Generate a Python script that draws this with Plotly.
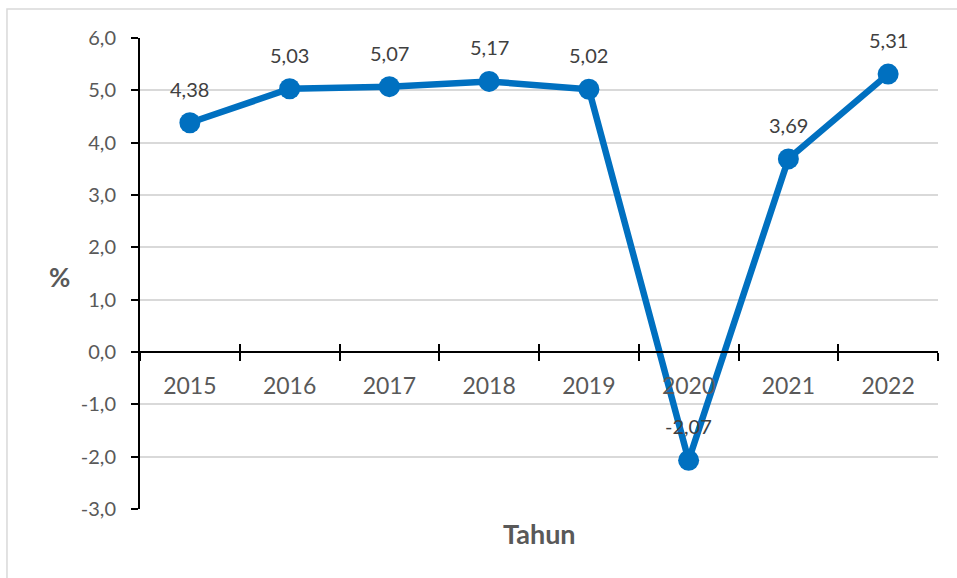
import plotly.graph_objects as go

years = ["2015", "2016", "2017", "2018", "2019", "2020", "2021", "2022"]
growth = [4.38, 5.03, 5.07, 5.17, 5.02, -2.07, 3.69, 5.31]
y_ticks = [-3, -2, -1, 0, 1, 2, 3, 4, 5, 6]

FONT = "Lato"
BLUE = "#0070C0"
GREY = "#595959"


def id_num(v, d):
    # Indonesian style decimal comma, plain hyphen for negatives
    return f"{v:.{d}f}".replace(".", ",")


fig = go.Figure()

fig.add_trace(go.Scatter(
    x=years, y=growth,
    mode="lines+markers",
    line=dict(color=BLUE, width=6.5),
    marker=dict(size=21, color=BLUE),
    showlegend=False,
    hovertemplate="%{x}: %{y:.2f}%<extra></extra>",
))

# helper trace so the second x axis (inner half of the tick marks) gets drawn
fig.add_trace(go.Scatter(
    x=years, y=growth, xaxis="x2", mode="none",
    showlegend=False, hoverinfo="skip",
))

# data labels above each point (category index as x, year strings would be read as numbers)
for i, v in enumerate(growth):
    fig.add_annotation(
        x=i, y=v, xref="x", yref="y", text=id_num(v, 2),
        showarrow=False, yshift=34,
        font=dict(family=FONT, size=20, color="#404040"),
    )

zero_pos = 3 / 9
x_range = [-0.5, len(years) - 0.5]

fig.update_layout(
    width=957, height=578,
    margin=dict(l=140, r=19, t=38, b=69),
    paper_bgcolor="white",
    plot_bgcolor="white",
    font=dict(family=FONT, size=20, color=GREY),
    xaxis=dict(
        type="category", range=x_range,
        anchor="free", position=zero_pos,
        showline=True, linecolor="black", linewidth=2,
        ticks="outside", tickson="boundaries", ticklen=8,
        tickcolor="black", tickwidth=2,
        showgrid=False,
        ticklabelstandoff=13,
        tickfont=dict(family=FONT, size=23, color=GREY),
    ),
    xaxis2=dict(
        type="category", range=x_range, overlaying="x",
        anchor="free", position=zero_pos,
        showline=False,
        ticks="inside", tickson="boundaries", ticklen=8,
        tickcolor="black", tickwidth=2,
        showticklabels=False, showgrid=False,
    ),
    yaxis=dict(
        range=[-3, 6],
        tickvals=y_ticks,
        ticktext=[id_num(v, 1) for v in y_ticks],
        showline=True, linecolor="black", linewidth=2,
        ticks="outside", ticklen=7, tickcolor="black", tickwidth=2,
        showgrid=True, gridcolor="#d9d9d9", gridwidth=1.5,
        zeroline=False,
        ticklabelstandoff=11,
        tickfont=dict(family=FONT, size=20, color=GREY),
    ),
)

fig.add_annotation(
    x=0.5, y=-0.051, xref="paper", yref="paper",
    text="<b>Tahun</b>", showarrow=False, yanchor="middle",
    font=dict(family=FONT, size=27, color=GREY),
)
fig.add_annotation(
    x=-0.104, y=0.4926, xref="paper", yref="paper", xshift=-10,
    text="<b>%</b>", showarrow=False, yanchor="middle",
    font=dict(family=FONT, size=26, color=GREY),
)

# chart border
fig.add_shape(
    type="rect", xref="paper", yref="paper",
    x0=-0.1667, x1=1.2, y0=-0.3, y1=1.0616,
    line=dict(color="#d9d9d9", width=1.5),
    fillcolor="rgba(0,0,0,0)", layer="below",
)

# drop the default page margin so the figure sits at the window's corner
fig.write_html(
    "out.html",
    config={"displayModeBar": False},
    post_script="document.body.style.margin = '0';",
)
